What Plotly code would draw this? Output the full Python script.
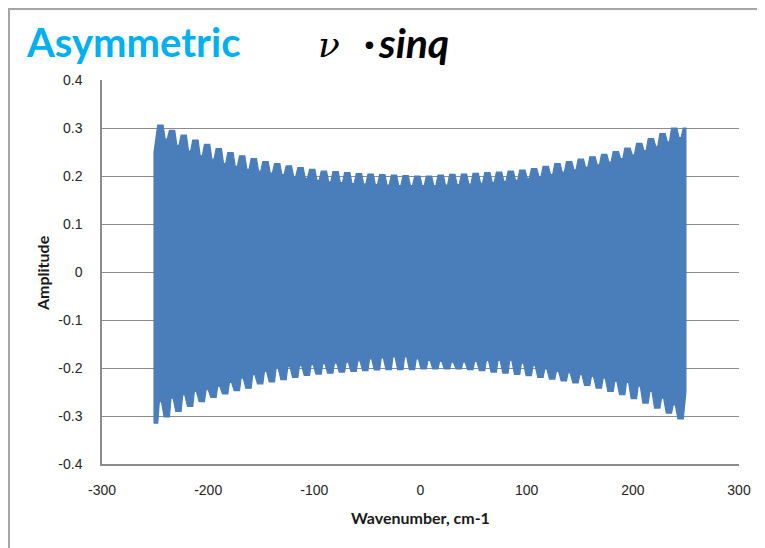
import plotly.graph_objects as go

# ---------------- data ----------------
# Upper envelope: bump (peak) positions and peak / notch amplitudes
upper_x = [-245, -234, -223, -212, -201, -190, -179, -168, -157, -146, -135, -124, -113,
           -102, -91, -80, -69, -58, -47, -36, -25, -14, -3, 8, 19, 30, 41, 52, 63, 74,
           85, 96, 107, 118, 129, 140, 151, 162, 173, 184, 195, 206, 217, 228, 239]
upper_peak = [0.306, 0.295, 0.285, 0.275, 0.266, 0.257, 0.249, 0.242, 0.236, 0.230,
              0.226, 0.221, 0.2175, 0.214, 0.210, 0.209, 0.207, 0.205, 0.204, 0.203,
              0.202, 0.201, 0.200, 0.200, 0.202, 0.2035, 0.204, 0.2056, 0.207, 0.208,
              0.210, 0.2125, 0.2155, 0.220, 0.226, 0.230, 0.235, 0.240, 0.245, 0.251,
              0.258, 0.268, 0.278, 0.2885, 0.2996]
upper_notch = [0.277, 0.264, 0.252, 0.242, 0.235, 0.226, 0.220, 0.214, 0.210, 0.206,
               0.203, 0.199, 0.195, 0.191, 0.188, 0.186, 0.184, 0.183, 0.182, 0.181,
               0.180, 0.180, 0.180, 0.180, 0.181, 0.182, 0.183, 0.185, 0.187, 0.189,
               0.191, 0.195, 0.199, 0.203, 0.208, 0.213, 0.218, 0.223, 0.229, 0.236,
               0.244, 0.253, 0.262, 0.271, 0.280]

# Lower envelope: bump (most negative) positions, values, and the upward spikes
lower_x = [-250, -239, -228, -217, -206, -195, -184, -173, -162, -151, -140, -129, -118,
           -107, -96, -85, -74, -63, -52, -41, -30, -19, -8, 3, 14, 25, 36, 47, 58, 69,
           80, 91, 102, 113, 124, 135, 146, 157, 168, 179, 190, 201, 212, 223, 234, 245]
lower_peak = [-0.315, -0.302, -0.2906, -0.280, -0.270, -0.261, -0.254, -0.247, -0.242,
              -0.233, -0.229, -0.2244, -0.2196, -0.2154, -0.2126, -0.2105, -0.2084,
              -0.207, -0.2056, -0.2042, -0.2035, -0.2035, -0.2035, -0.202, -0.202,
              -0.202, -0.202, -0.2035, -0.2056, -0.2084, -0.2105, -0.2133, -0.216,
              -0.2196, -0.223, -0.227, -0.2313, -0.236, -0.2418, -0.2488, -0.2557,
              -0.264, -0.273, -0.2835, -0.294, -0.306]
lower_spike = [-0.270, -0.263, -0.256, -0.249, -0.245, -0.238, -0.230, -0.221, -0.214,
               -0.207, -0.200, -0.197, -0.195, -0.193, -0.191, -0.190, -0.188, -0.185,
               -0.181, -0.179, -0.177, -0.177, -0.181, -0.184, -0.186, -0.188, -0.188,
               -0.186, -0.184, -0.184, -0.184, -0.190, -0.195, -0.202, -0.207, -0.210,
               -0.214, -0.2175, -0.221, -0.228, -0.230, -0.238, -0.249, -0.263, -0.277]

# Signal extent and edge values
signal_start, signal_end = -251, 250
edge_upper_left, edge_upper_right = 0.25, 0.30
edge_lower_right = -0.25

# Axis ticks
x_ticks = [-300, -200, -100, 0, 100, 200, 300]
x_tick_labels = ["-300", "-200", "-100", "0", "100", "200", "300"]
y_ticks = [-0.4, -0.3, -0.2, -0.1, 0, 0.1, 0.2, 0.3, 0.4]
y_tick_labels = ["-0.4", "-0.3", "-0.2", "-0.1", "0", "0.1", "0.2", "0.3", "0.4"]

# ---------------- build the filled oscillation band ----------------
half_plateau, ramp = 2.5, 2.0
xs, ys = [signal_start, signal_start], [lower_peak[0], edge_upper_left]
for p, P, N in zip(upper_x, upper_peak, upper_notch):
    xs += [p - half_plateau, p + half_plateau, p + half_plateau + ramp,
           p + half_plateau + 2 * ramp]
    ys += [P, P, N, N]
xs += [upper_x[-1] + half_plateau + 3 * ramp, signal_end, signal_end]
ys += [edge_upper_right, edge_upper_right, edge_lower_right]
for j in range(len(lower_x) - 1, -1, -1):
    L = lower_x[j]
    a = min(max(L + half_plateau, signal_start), signal_end)
    b = min(max(L - half_plateau, signal_start), signal_end)
    xs += [a, b]
    ys += [lower_peak[j], lower_peak[j]]
    if j > 0:
        s = upper_x[j - 1]
        xs += [s + ramp / 2, s - ramp / 2]
        ys += [lower_spike[j - 1], lower_spike[j - 1]]

blue = "#4A7EBB"
fig = go.Figure(go.Scatter(x=xs, y=ys, mode="lines", fill="toself", fillcolor=blue,
                           line=dict(color=blue, width=1.2), hoverinfo="skip",
                           showlegend=False))

# The page body adds an 8px offset; lay out in page pixels minus that offset.
OFF = 8
W, H = 765 - OFF, 548 - OFF
plot_left, plot_right, plot_top, plot_bottom = 102 - OFF, 739 - OFF, 80 - OFF, 464 - OFF
L_, R_, T_, B_ = plot_left, W - plot_right, plot_top, H - plot_bottom
pw, ph = plot_right - plot_left, plot_bottom - plot_top


def px(xp):  # xp: page pixel
    return (xp - OFF - plot_left) / pw


def py(yp):
    return (plot_bottom - (yp - OFF)) / ph


grid = "#8C8C8C"
tickfont = dict(family="Liberation Sans, Arial, sans-serif", size=14, color="#262626")
fig.update_layout(
    width=W, height=H, margin=dict(l=L_, r=R_, t=T_, b=B_),
    paper_bgcolor="white", plot_bgcolor="white",
    xaxis=dict(range=[-300, 300], tickvals=x_ticks, ticktext=x_tick_labels,
               showgrid=False, zeroline=False, showline=True, linecolor=grid,
               linewidth=1.5, ticks="", tickfont=tickfont, ticklabelstandoff=12),
    yaxis=dict(range=[-0.4, 0.4], tickvals=y_ticks, ticktext=y_tick_labels,
               showgrid=True, gridcolor=grid, gridwidth=1.2, zeroline=False,
               showline=True, linecolor=grid, linewidth=1.5, ticks="",
               tickfont=tickfont, ticklabelstandoff=15),
    annotations=[
        dict(text="<b>Asymmetric</b>", x=px(24), y=py(42), xref="paper", yref="paper",
             xanchor="left", yanchor="middle", showarrow=False,
             font=dict(family="Lato, sans-serif", size=40, color="#00B0F0")),
        dict(text="<i>ν</i>", x=px(316), y=py(44), xref="paper", yref="paper",
             xanchor="left", yanchor="middle", showarrow=False,
             font=dict(family="DejaVu Serif, serif", size=36, color="black")),
        dict(text="<b><i>·</i></b>", x=px(362), y=py(42), xref="paper",
             yref="paper", xanchor="left", yanchor="middle", showarrow=False,
             font=dict(family="Lato, sans-serif", size=40, color="black")),
        dict(text="<b><i>sinq</i></b>", x=px(376), y=py(42), xref="paper",
             yref="paper", xanchor="left", yanchor="middle", showarrow=False,
             font=dict(family="Lato, sans-serif", size=41, color="black")),
        dict(text="<b>Wavenumber, cm-1</b>", x=px(420), y=py(517), xref="paper",
             yref="paper", xanchor="center", yanchor="middle", showarrow=False,
             font=dict(family="Lato, sans-serif", size=16, color="#1a1a1a")),
        dict(text="<b>Amplitude</b>", x=px(42), y=py(273), xref="paper",
             yref="paper", xanchor="center", yanchor="middle", showarrow=False,
             textangle=-90,
             font=dict(family="Lato, sans-serif", size=16, color="#1a1a1a")),
    ],
    shapes=[
        dict(type="line", xref="paper", yref="paper", x0=px(8), x1=px(765),
             y0=py(9), y1=py(9), line=dict(color="#A6A6A6", width=2)),
        dict(type="line", xref="paper", yref="paper", x0=px(9), x1=px(9),
             y0=py(9), y1=py(548), line=dict(color="#A6A6A6", width=2)),
    ],
)

fig.write_html("out.html")
